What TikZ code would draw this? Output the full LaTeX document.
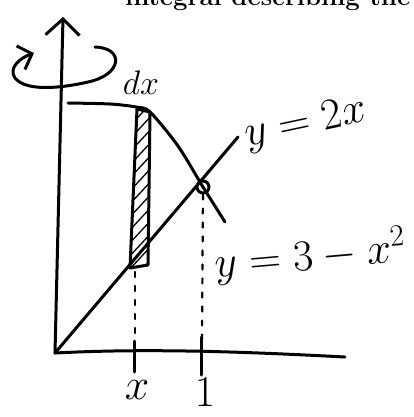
\RequirePackage{fix-cm}
\documentclass[tikz,border=0pt]{standalone}
\usetikzlibrary{arrows.meta}
\tikzset{
  pen/.style={line width=3pt, line cap=round, line join=round},
  guide/.style={line width=2.2pt, line cap=round, dash pattern=on 5pt off 9pt},
  hand/.style={inner sep=0pt, font=\fontsize{44}{48}\selectfont},
  barb/.style={-{Straight Barb[length=16pt, width=34pt]}}
}
\begin{document}
\begin{tikzpicture}[x=1pt, y=-1pt]
\useasboundingbox (0,0) rectangle (414,417);
\fill[white] (0,0) rectangle (414,417);
% cut-off line of the page above
\begin{scope}
\clip (0,0) rectangle (414,13);
\node[anchor=base west, inner sep=0pt, font=\fontsize{25.8}{28}\selectfont\bfseries] (pagetext) at (125,6) {integral describing the};
\end{scope}
% axes
\coordinate (O) at (55,353);
\coordinate (ytop) at (63,17);
\coordinate (xend) at (345,357);
\draw[pen, barb] (O) -- (ytop);
\draw[pen] (O) .. controls (150,348) and (250,352) .. (xend);
% turning arrow round the axis
\draw[pen, -{Straight Barb[length=12pt, width=25pt]}] (95,47) .. controls (125,48) and (122,75) .. (88,82)
  .. controls (62,88) and (26,92) .. (15,78) .. controls (8,68) and (20,58) .. (34,53);
% strip of width dx
\begin{scope}
\clip (137,109) -- (150,112) -- (148,265) -- (130,268) -- cycle;
\foreach \k in {0,...,12}
  \draw[line width=1.3pt] (128,128+13*\k) -- (154,100+13*\k);
\end{scope}
\draw[pen] (137,109) -- (150,112) -- (148,265) -- (130,268) -- cycle;
% curves
\draw[pen] plot[smooth] coordinates {(68,103) (110,104) (136,107) (150,112) (178,146) (203,187) (225,222)};
\draw[pen] (O) -- (238,137);
\node[circle, draw, line width=3pt, minimum size=12pt, inner sep=0pt] (P) at (203,187) {};
% guides and ticks
\coordinate (xfoot) at (135,272);
\draw[guide] (P) -- (202,340);
\draw[guide] (xfoot) -- (135,338);
\draw[pen] (201,337) -- (201,375);
\draw[pen] (134,341) -- (134,372);
% labels
\node[hand, font=\fontsize{34}{36}\selectfont] (dx) at (141,83) {$dx$};
\node[hand, rotate=12] (line) at (306,124) {$y=2x$};
\node[hand, rotate=5] (parab) at (310,256) {$y=3-x^2$};
\node[hand] (xlab) at (137,390) {$x$};
\node[hand] (one) at (205,392) {$1$};
\end{tikzpicture}
\end{document}
